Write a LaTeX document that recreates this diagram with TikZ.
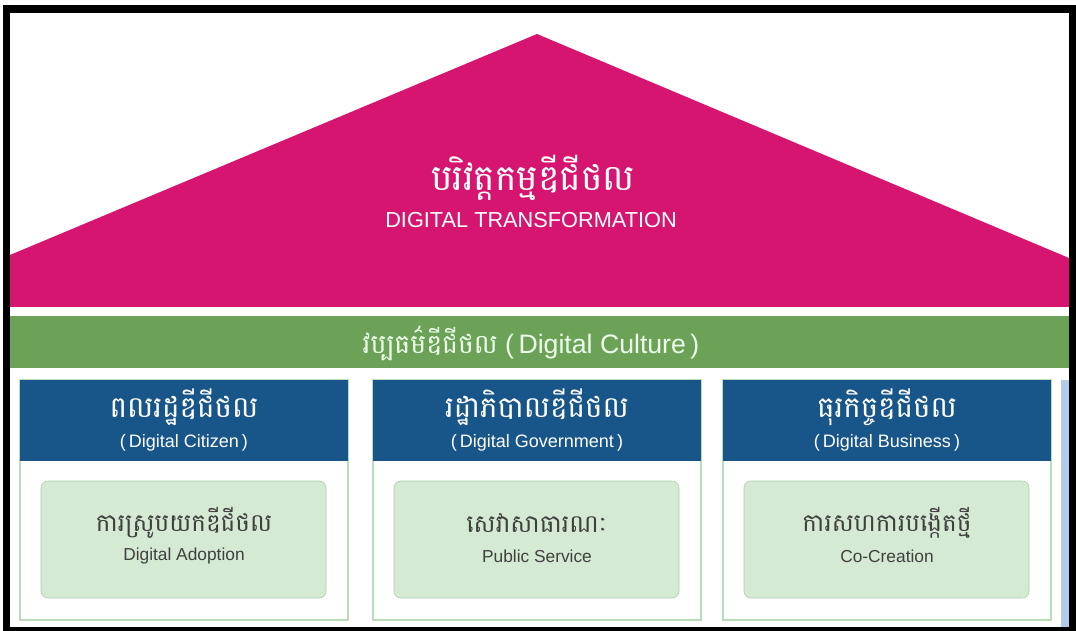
\documentclass[tikz,border=0pt]{standalone}
\usepackage{fontspec}
\setmainfont{Liberation Sans}
\newfontfamily\khmer[Script=Khmer]{Battambang}
\definecolor{roof}{HTML}{D5156F}
\definecolor{band}{HTML}{6BA257}
\definecolor{head}{HTML}{18568A}
\definecolor{colline}{HTML}{B9DDB9}
\definecolor{cellfill}{HTML}{D4EAD3}
\definecolor{cellline}{HTML}{A9CEA7}
\definecolor{strip}{HTML}{B2CDEB}
\tikzset{
  every node/.style={inner sep=0pt},
  roofkh/.style={text=white, font=\khmer\fontsize{27}{29}\selectfont},
  roofen/.style={text=white, font=\fontsize{16.3}{18}\selectfont},
  bandtext/.style={text=green!8, font=\fontsize{20}{22}\selectfont},
  headkh/.style={text=white, font=\khmer\fontsize{22}{24}\selectfont},
  heden/.style={text=white, font=\fontsize{13.5}{15}\selectfont},
  cellkh/.style={text=black!75, font=\khmer\fontsize{18.5}{20}\selectfont},
  cellen/.style={text=black!75, font=\fontsize{13}{15}\selectfont},
}
\begin{document}
\begin{tikzpicture}[x = .75pt, y = -.75pt]
	\useasboundingbox (0,0) rectangle (1076,631);
	\fill[black] (3,5) rectangle (1076,631); %frame
	\fill[white] (10,13) rectangle (1069,627);
	\fill[roof] (10,255) -- (537,34) -- (1069,258) -- (1069,307) -- (10,307) -- cycle; %roof
	\node[roofkh] (roofkh) at (533,178) {បរិវត្តកម្មឌីជីថល};
	\node[roofen] (roofen) at (531,220) {DIGITAL TRANSFORMATION};
	\fill[band] (10,316) rectangle (1069,368); %culture
	\node[bandtext] (culture) at (531,343) {{\khmer វប្បធម៌ឌីជីថល} (\,Digital Culture\,)};
	\fill[strip] (1061,380) rectangle (1069,627);
	\foreach \x/\kh/\en/\ckh/\cen [count=\i] in {20/ពលរដ្ឋឌីជីថល/Digital Citizen/ការស្រូបយកឌីជីថល/Digital Adoption,
			373/រដ្ឋាភិបាលឌីជីថល/Digital Government/សេវាសាធារណៈ/Public Service,
			723/ធុរកិច្ចឌីជីថល/Digital Business/ការសហការបង្កើតថ្មី/Co-Creation} {
		\draw[colline, line width=1pt] (\x,380) rectangle ++(328,240);
		\fill[head] (\x,380) rectangle ++(328,81);
		\draw[cellline, fill=cellfill, rounded corners=5pt] (\x+21,481) rectangle ++(285,117);
		\node[headkh] (headkh\i) at (\x+164,407) {\kh};
		\node[heden] (heden\i) at (\x+164,443) {(\,\en\,)};
		\node[cellkh] (cellkh\i) at (\x+164,523) {\ckh};
		\node[cellen] (cellen\i) at (\x+164,556) {\cen};
	}
\end{tikzpicture}
\end{document}
